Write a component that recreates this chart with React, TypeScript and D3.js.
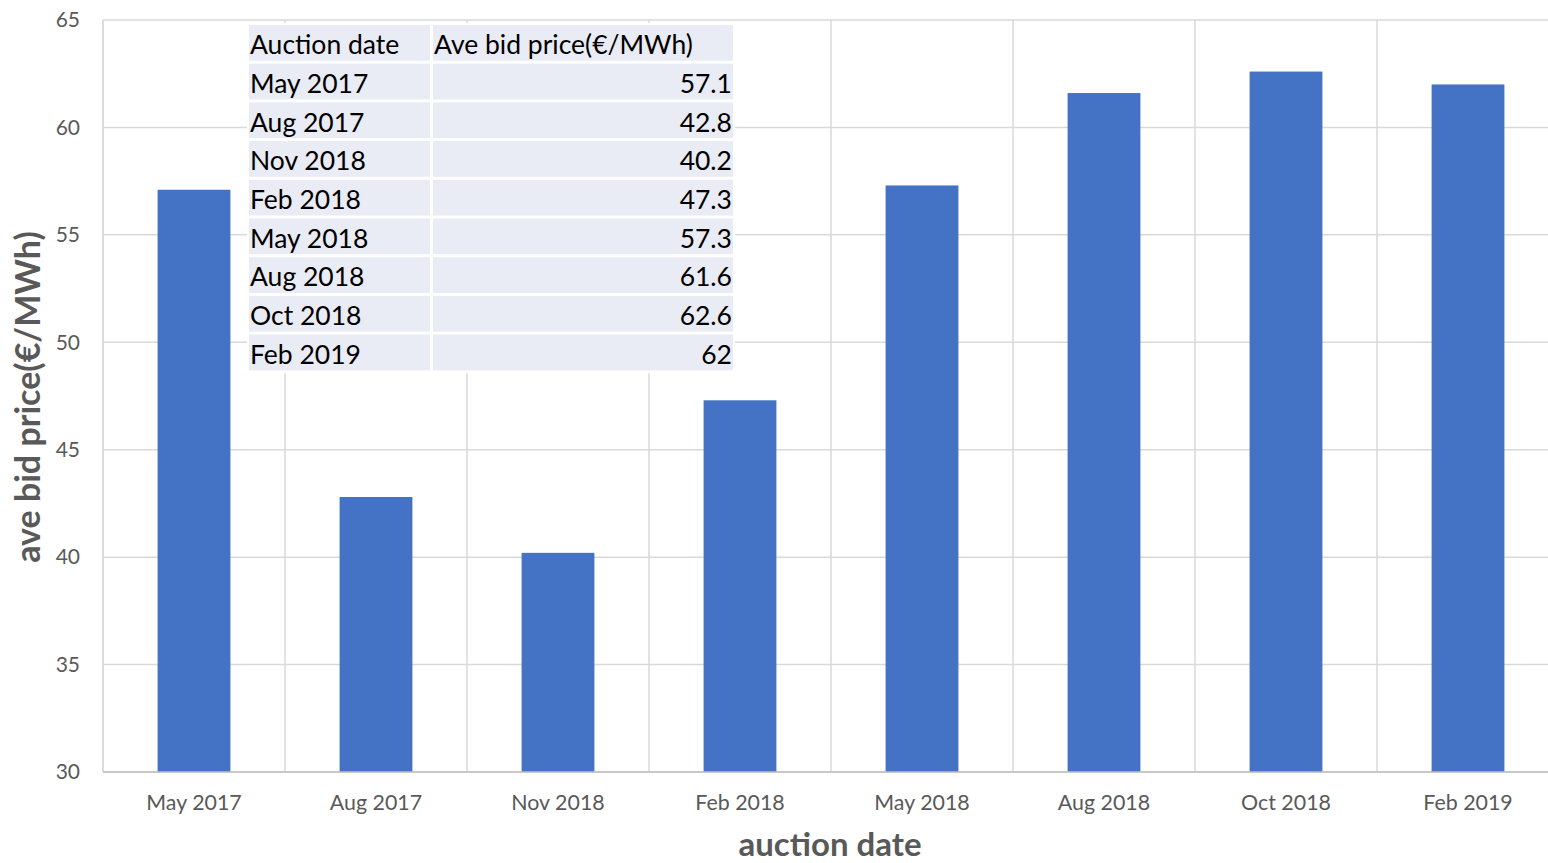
import React from "react";
import * as d3 from "d3";

const categories = ["May 2017", "Aug 2017", "Nov 2018", "Feb 2018", "May 2018", "Aug 2018", "Oct 2018", "Feb 2019"];
const values = [57.1, 42.8, 40.2, 47.3, 57.3, 61.6, 62.6, 62];
const tableValues = ["57.1", "42.8", "40.2", "47.3", "57.3", "61.6", "62.6", "62"];
const yTicks = [30, 35, 40, 45, 50, 55, 60, 65];
const tableHeader = ["Auction date", "Ave bid price(€/MWh)"];

const W = 1548;
const H = 863;
const FONT = "Lato, 'Open Sans', sans-serif";

export default function App() {
  const left = 103, right = 1559, top = 20, bottom = 772;
  const x = d3.scaleBand<string>().domain(categories).range([left, right]).paddingInner(0.6).paddingOuter(0.3);
  const xb = d3.scaleBand<string>().domain(categories).range([left, right]);
  const y = d3.scaleLinear().domain([30, 65]).range([bottom, top]);

  const tX0 = 249, tX1 = 433, tX2 = 733;
  const rowTop = 25, rowH = 38.7, gap = 3;
  const rows = [tableHeader, ...categories.map((c, i) => [c, tableValues[i]])];

  return (
    <svg width={W} height={H} style={{ position: "absolute", left: 0, top: 0, display: "block" }}>
      <rect width={W} height={H} fill="#fff" />
      {yTicks.map((t) => (
        <line key={t} x1={left} x2={W} y1={y(t)} y2={y(t)} stroke="#D9D9D9" strokeWidth={1.5} />
      ))}
      {categories.map((c) => (
        <line key={c} x1={xb(c)!} x2={xb(c)!} y1={top} y2={bottom} stroke="#D9D9D9" strokeWidth={1.5} />
      ))}
      <line x1={left} x2={left} y1={top} y2={bottom} stroke="#D9D9D9" strokeWidth={1.5} />
      {categories.map((c, i) => (
        <rect key={c} x={x(c)!} width={x.bandwidth()} y={y(values[i])} height={y(30) - y(values[i])} fill="#4472C4" />
      ))}
      <line x1={left} x2={W} y1={bottom} y2={bottom} stroke="#BFBFBF" strokeWidth={1.5} />
      {yTicks.map((t) => (
        <text key={t} x={80} y={y(t)} dy="0.35em" textAnchor="end" fontFamily={FONT} fontSize={21} fill="#595959">{t}</text>
      ))}
      {categories.map((c) => (
        <text key={c} x={x(c)! + x.bandwidth() / 2} y={803} dy="0.35em" textAnchor="middle" fontFamily={FONT} fontSize={21.4} fill="#595959">{c}</text>
      ))}
      <text x={830} y={856} textAnchor="middle" fontFamily={FONT} fontSize={33} fontWeight="bold" fill="#595959">auction date</text>
      <text transform={`translate(28,397) rotate(-90)`} dy="0.35em" textAnchor="middle" fontFamily={FONT} fontSize={34} fontWeight="bold" fill="#595959">ave bid price(€/MWh)</text>

      <rect x={tX0 - 2} y={rowTop - 2} width={tX2 - tX0 + 4} height={rows.length * rowH + 2} fill="#fff" />
      {rows.map((r, i) => {
        const ry = rowTop + i * rowH;
        return (
          <g key={i}>
            <rect x={tX0} y={ry} width={tX1 - tX0 - gap} height={rowH - gap} fill="#E9EBF5" />
            <rect x={tX1} y={ry} width={tX2 - tX1} height={rowH - gap} fill="#E9EBF5" />
            <text x={tX0 + 1} y={ry + (rowH - gap) / 2 + 2} dy="0.35em" fontFamily={FONT} fontSize={26.5} fill="#000">{r[0]}</text>
            {i === 0 ? (
              <text x={tX1 + 1} y={ry + (rowH - gap) / 2 + 2} dy="0.35em" fontFamily={FONT} fontSize={26.5} fill="#000">{r[1]}</text>
            ) : (
              <text x={tX2 - 1} y={ry + (rowH - gap) / 2 + 2} dy="0.35em" textAnchor="end" fontFamily={FONT} fontSize={26.5} fill="#000">{r[1]}</text>
            )}
          </g>
        );
      })}
    </svg>
  );
}
